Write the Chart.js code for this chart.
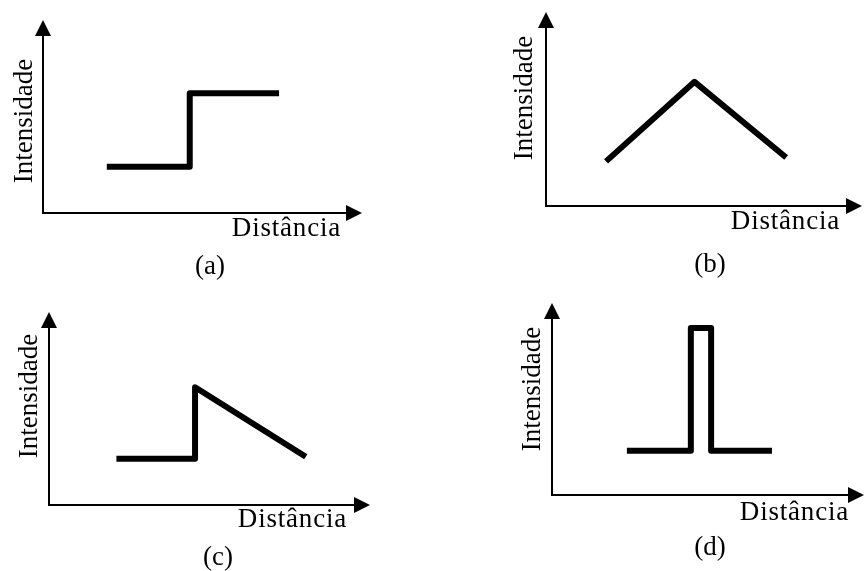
<!DOCTYPE html>
<html lang="pt">
  <head>
    <meta charset="UTF-8" />
    <title>Perfis de intensidade</title>
    <script src="https://cdn.jsdelivr.net/npm/chart.js"></script>
    <style>
      body {
        margin: 0;
        background: #fff;
      }
      .painel {
        position: absolute;
      }
    </style>
  </head>
  <body>
    <canvas id="grafA" class="painel" width="432" height="285" style="left:0;top:0"></canvas>
    <canvas id="grafB" class="painel" width="432" height="285" style="left:432px;top:0"></canvas>
    <canvas id="grafC" class="painel" width="432" height="286" style="left:0;top:285px"></canvas>
    <canvas id="grafD" class="painel" width="432" height="286" style="left:432px;top:285px"></canvas>
    <script>
      // perfis (distancia, intensidade), eixos de 0 a 10
      const degrauX = [2.0, 4.6, 4.6, 7.4];
      const degrauY = [2.4, 2.4, 6.2, 6.2];
      const rampaX = [1.9, 4.7, 7.6];
      const rampaY = [2.3, 6.4, 2.5];
      const telhadoX = [2.1, 4.55, 4.55, 8.0];
      const telhadoY = [2.4, 2.4, 6.1, 2.5];
      const pulsoX = [2.4, 4.45, 4.45, 5.1, 5.1, 7.05];
      const pulsoY = [2.3, 2.3, 8.7, 8.7, 2.3, 2.3];

      const tituloX = "Distância";
      const tituloY = "Intensidade";
      const legendas = ["(a)", "(b)", "(c)", "(d)"];

      const fonte = "27px 'Liberation Serif', serif";

      // eixos com setas + textos
      const eixosSetas = {
        id: "eixosSetas",
        afterDraw(chart, args, opts) {
          const ctx = chart.ctx;
          const xs = chart.scales.x;
          const ys = chart.scales.y;
          const x0 = xs.getPixelForValue(0);
          const x1 = xs.getPixelForValue(10);
          const y0 = ys.getPixelForValue(0);
          const y1 = ys.getPixelForValue(10);
          ctx.save();
          ctx.strokeStyle = "#000";
          ctx.fillStyle = "#000";
          ctx.lineWidth = 2;
          ctx.beginPath();
          ctx.moveTo(x0, y1 + 10);
          ctx.lineTo(x0, y0);
          ctx.lineTo(x1 - 10, y0);
          ctx.stroke();
          ctx.beginPath();
          ctx.moveTo(x0, y1);
          ctx.lineTo(x0 - 8, y1 + 16);
          ctx.lineTo(x0 + 8, y1 + 16);
          ctx.closePath();
          ctx.fill();
          ctx.beginPath();
          ctx.moveTo(x1, y0);
          ctx.lineTo(x1 - 16, y0 - 8);
          ctx.lineTo(x1 - 16, y0 + 8);
          ctx.closePath();
          ctx.fill();

          ctx.font = fonte;
          ctx.textBaseline = "alphabetic";
          ctx.textAlign = "center";
          ctx.fillText(opts.legenda, opts.lg[0], opts.lg[1]);
          ctx.textAlign = "right";
          ctx.letterSpacing = "0.8px";
          ctx.fillText(tituloX, opts.xt[0], opts.xt[1]);
          ctx.letterSpacing = "0px";
          ctx.textAlign = "center";
          ctx.translate(opts.yt[0], opts.yt[1]);
          ctx.rotate(-Math.PI / 2);
          ctx.fillText(tituloY, 0, 0);
          ctx.restore();
        },
      };

      function desenha(id, xv, yv, padding, textos, legenda) {
        const pontos = xv.map((x, i) => ({ x: x, y: yv[i] }));
        new Chart(document.getElementById(id), {
          type: "line",
          data: {
            datasets: [
              {
                data: pontos,
                borderColor: "#000",
                borderWidth: 6,
                borderJoinStyle: "round",
                pointRadius: 0,
                tension: 0,
                clip: false,
              },
            ],
          },
          options: {
            responsive: false,
            animation: false,
            layout: { padding: padding },
            scales: {
              x: { type: "linear", min: 0, max: 10, display: false },
              y: { type: "linear", min: 0, max: 10, display: false },
            },
            plugins: {
              legend: { display: false },
              tooltip: { enabled: false },
              eixosSetas: Object.assign({ legenda: legenda }, textos),
            },
          },
          plugins: [eixosSetas],
        });
      }

      desenha("grafA", degrauX, degrauY,
        { left: 43, right: 70, top: 20, bottom: 72 },
        { xt: [341, 236], yt: [32, 121], lg: [210, 274] }, legendas[0]);
      desenha("grafB", rampaX, rampaY,
        { left: 114, right: 2, top: 12, bottom: 79 },
        { xt: [408, 229], yt: [100, 98], lg: [278, 272] }, legendas[1]);
      desenha("grafC", telhadoX, telhadoY,
        { left: 49, right: 62, top: 27, bottom: 66 },
        { xt: [347, 242], yt: [37, 111], lg: [218, 280] }, legendas[2]);
      desenha("grafD", pulsoX, pulsoY,
        { left: 120, right: 0, top: 18, bottom: 76 },
        { xt: [417, 235], yt: [108, 104], lg: [278, 270] }, legendas[3]);
    </script>
  </body>
</html>
